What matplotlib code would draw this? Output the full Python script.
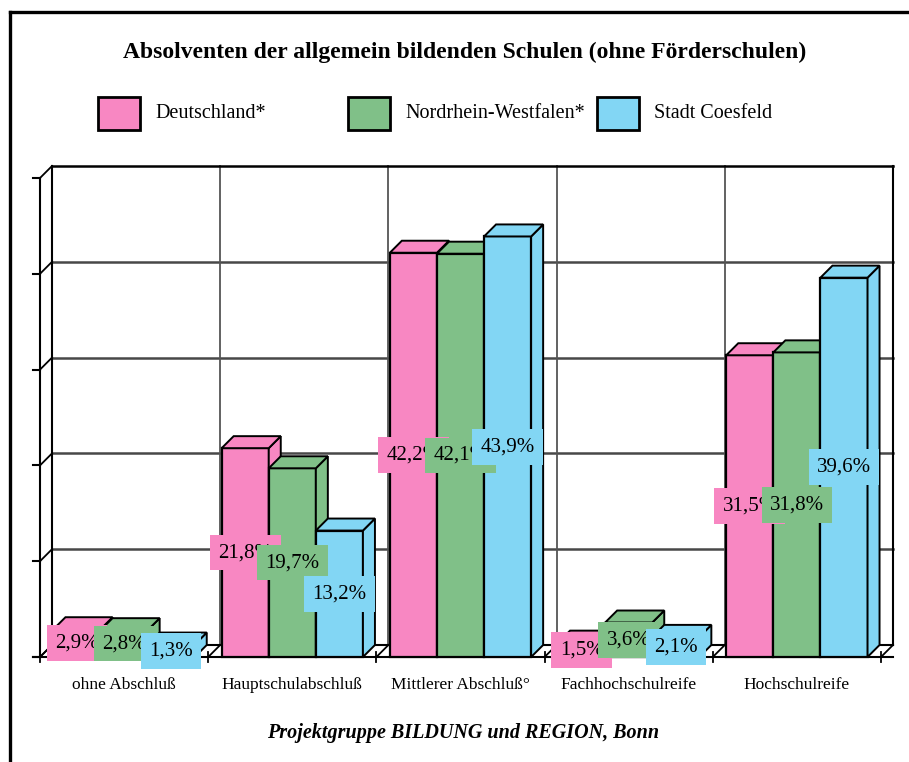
import matplotlib
matplotlib.use("Agg")
import matplotlib.pyplot as plt
from matplotlib.patches import Rectangle, Polygon
from matplotlib.lines import Line2D

categories = ["ohne Abschluß", "Hauptschulabschluß", "Mittlerer Abschluß°",
              "Fachhochschulreife", "Hochschulreife"]
series_names = ["Deutschland*", "Nordrhein-Westfalen*", "Stadt Coesfeld"]
deutschland = [2.9, 21.8, 42.2, 1.5, 31.5]
nrw = [2.8, 19.7, 42.1, 3.6, 31.8]
coesfeld = [1.3, 13.2, 43.9, 2.1, 39.6]
series_values = [deutschland, nrw, coesfeld]
colors = ["#F887C2", "#80C088", "#82D6F4"]
y_max = 50
y_step = 10

title = "Absolventen der allgemein bildenden Schulen (ohne Förderschulen)"
footer = "Projektgruppe BILDUNG und REGION, Bonn"

SERIF = "Liberation Serif"
W, H = 909, 762
fig = plt.figure(figsize=(W / 100, H / 100), dpi=100)
fig.patch.set_facecolor("white")

# outer frame (cropped at right & bottom)
fig.add_artist(Line2D([10 / W, 10 / W], [0, 1 - 12 / H], color="black", lw=2.4))
fig.add_artist(Line2D([10 / W, 1], [1 - 12 / H, 1 - 12 / H], color="black", lw=2.4))

fig.text(465 / W, 1 - 52 / H, title, ha="center", va="center",
         fontsize=17, fontweight="bold", family=SERIF)
fig.text(463 / W, 1 - 733 / H, footer, ha="center", va="center",
         fontsize=14.5, fontweight="bold", style="italic", family=SERIF)

# legend
leg_x = [98, 348, 597]
for i, name in enumerate(series_names):
    fig.add_artist(Rectangle((leg_x[i] / W, 1 - 130 / H), 42 / W, 33 / H,
                             transform=fig.transFigure, facecolor=colors[i],
                             edgecolor="black", lw=2))
    fig.text((leg_x[i] + 57) / W, 1 - 114 / H, name, ha="left", va="center",
             fontsize=14.5, family=SERIF)

ax_l, ax_r, ax_b, ax_t = 40, 881, 657, 178
ax = fig.add_axes([ax_l / W, (H - ax_b) / H, (ax_r - ax_l) / W, (ax_b - ax_t) / H])
n = len(categories)
ax.set_xlim(-0.5, n - 0.5)
ax.set_ylim(0, y_max)
ax.axis("off")

ppx = (ax_r - ax_l) / n          # pixels per x unit
ppy = (ax_b - ax_t) / y_max      # pixels per y unit
depth = 12
dx, dy = depth / ppx, depth / ppy
tick_px = 7

x0, x1 = -0.5, n - 0.5
grid_col = "#484848"
kw = dict(clip_on=False)

# back wall
ax.add_patch(Rectangle((x0 + dx, dy), n, y_max, facecolor="white",
                       edgecolor="none", zorder=0, **kw))
for yv in range(y_step, y_max, y_step):
    ax.plot([x0 + dx, x1 + dx], [yv + dy, yv + dy], color=grid_col, lw=1.8, zorder=1, **kw)
for b in range(1, n):
    xb = b - 0.5 + dx
    ax.plot([xb, xb], [dy, y_max + dy], color="#555555", lw=1.3, zorder=1, **kw)
ax.plot([x0 + dx, x1 + dx], [y_max + dy, y_max + dy], color="black", lw=1.8, zorder=1, **kw)
ax.plot([x0 + dx, x0 + dx], [dy, y_max + dy], color="black", lw=1.5, zorder=1, **kw)
ax.plot([x1 + dx, x1 + dx], [dy, y_max + dy], color="black", lw=1.5, zorder=1, **kw)
ax.plot([x0 + dx, x1 + dx], [dy, dy], color="black", lw=1.5, zorder=1, **kw)

# front y axis with ticks
ax.plot([x0, x0], [0, y_max], color="black", lw=1.5, zorder=2, **kw)
for yv in range(0, y_max + 1, y_step):
    ax.plot([x0 - tick_px / ppx, x0], [yv, yv], color="black", lw=1.5, zorder=2, **kw)
    ax.plot([x0, x0 + dx], [yv, yv + dy], color="black", lw=1.3, zorder=2, **kw)

# front x axis with ticks
ax.plot([x0 - tick_px / ppx, x1 + dx], [0, 0], color="black", lw=1.5, zorder=2, **kw)
for b in range(0, n + 1):
    xb = b - 0.5
    ax.plot([xb, xb], [-5 / ppy, 5 / ppy], color="black", lw=1.3, zorder=2, **kw)
    ax.plot([xb, xb + dx], [0, dy], color="black", lw=1.3, zorder=2, **kw)

# bars
bw = 0.28
z = 3
for c in range(n):
    for s in range(len(series_values)):
        v = series_values[s][c]
        xl = c + (s - 1) * bw - bw / 2
        xr = xl + bw
        col = colors[s]
        ax.bar(xl, v, width=bw, align="edge", color=col, edgecolor="black",
               lw=1.6, zorder=z, clip_on=False)
        side = [(xr, 0), (xr + dx, dy), (xr + dx, v + dy), (xr, v)]
        ax.add_patch(Polygon(side, closed=True, facecolor=col, edgecolor="black",
                             lw=1.4, zorder=z, **kw))
        top = [(xl, v), (xr, v), (xr + dx, v + dy), (xl + dx, v + dy)]
        ax.add_patch(Polygon(top, closed=True, facecolor=col, edgecolor="black",
                             lw=1.4, zorder=z, **kw))
        z += 1

# value labels
for c in range(n):
    for s in range(len(series_values)):
        v = series_values[s][c]
        xc = c + (s - 1) * bw
        txt = f"{v:.1f}".replace(".", ",") + "%"
        ax.text(xc, v / 2, txt, ha="center", va="center", fontsize=15,
                family=SERIF, zorder=50 + s, clip_on=False,
                bbox=dict(boxstyle="square,pad=0.4", facecolor=colors[s],
                          edgecolor="none"))

# category labels
for c, name in enumerate(categories):
    ax.text(c, -28 / ppy, name, ha="center", va="center", fontsize=12.5,
            family=SERIF, clip_on=False)

fig.savefig("out.png", dpi=100, facecolor="white")
